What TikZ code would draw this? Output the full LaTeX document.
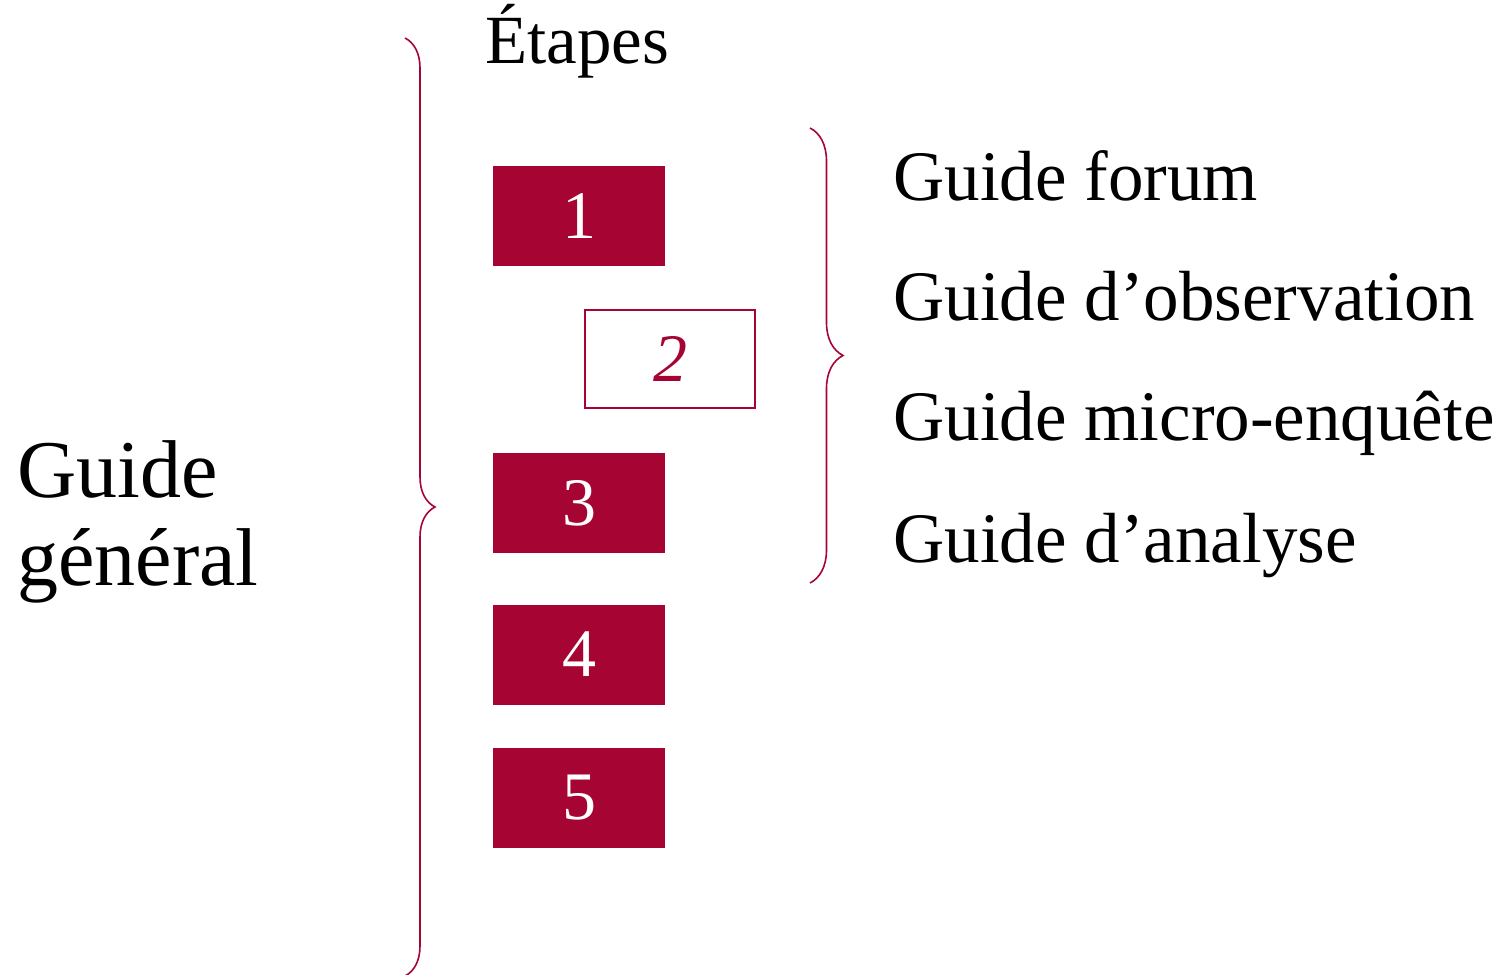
\documentclass[tikz,border=0pt]{standalone}
\usepackage{fontspec}
\setmainfont{Liberation Serif}
\usetikzlibrary{decorations.pathreplacing}
\definecolor{bordeaux}{RGB}{166,5,52}
\begin{document}
\begin{tikzpicture}
  [
    x=0.5pt, y=-0.5pt,
    stp/.style={fill=bordeaux, text=white, minimum width=86pt,
      minimum height=50pt, inner sep=0pt, font=\fontsize{34}{40}\selectfont},
    stpo/.style={draw=bordeaux, line width=1pt, text=bordeaux, minimum width=85pt,
      minimum height=49pt, inner sep=0pt, font=\fontsize{34}{40}\selectfont\itshape},
    brc/.style={bordeaux, line width=0.8pt, decorate},
    gde/.style={anchor=base west, inner sep=0pt, font=\fontsize{35.5}{40}\selectfont}
  ]
  \useasboundingbox (0,0) rectangle (1512,975);
  \node [anchor=base west, inner sep=0pt, font=\fontsize{34.5}{40}\selectfont]
    (E) at (485,63) {Étapes};
  \node [stp]  (S1) at (579,216)   {1};
  \node [stpo] (S2) at (670,359)   {2};
  \node [stp]  (S3) at (579,503)   {3};
  \node [stp]  (S4) at (579,654.5) {4};
  \node [stp]  (S5) at (579,798)   {5};
  \coordinate (B1) at (405,38);
  \coordinate (B2) at (405,976);
  \coordinate (C1) at (810,128);
  \coordinate (C2) at (810,583);
  \draw [brc, decoration={brace, amplitude=15pt}]   (B1) -- (B2);
  \draw [brc, decoration={brace, amplitude=16.5pt}] (C1) -- (C2);
  \node [anchor=base west, inner sep=0pt, align=left,
    font=\fontsize{41}{44}\selectfont] (G) at (17,585) {Guide\\général};
  \node [gde] (G1) at (893,200) {Guide forum};
  \node [gde] (G2) at (893,320) {Guide d’observation};
  \node [gde] (G3) at (893,440) {Guide micro-enquête};
  \node [gde] (G4) at (893,562) {Guide d’analyse};
\end{tikzpicture}
\end{document}
